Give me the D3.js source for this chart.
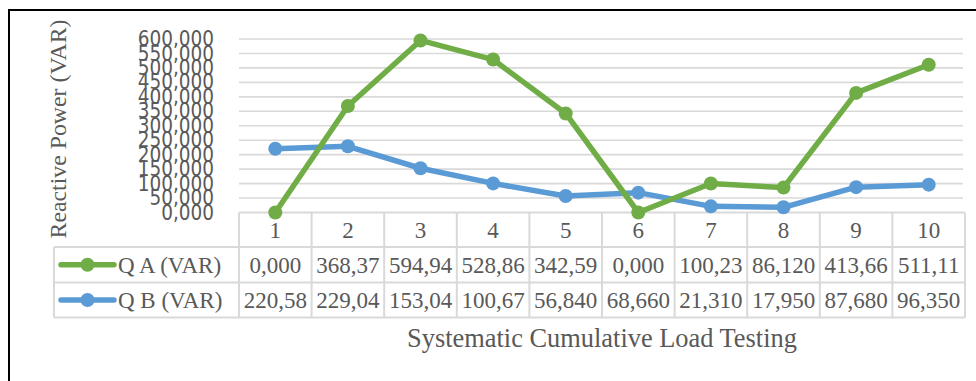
<!DOCTYPE html>
<html>
<head>
<meta charset="utf-8">
<script src="https://cdn.jsdelivr.net/npm/d3@7"></script>
<style>
  html, body { margin: 0; padding: 0; background: #fff; }
  svg { display: block; }
</style>
</head>
<body>
<svg id="chart" width="976" height="381"></svg>
<script>
const categories = ["1", "2", "3", "4", "5", "6", "7", "8", "9", "10"];
const seriesNames = ["Q A (VAR)", "Q B (VAR)"];
const qA = [0.000, 368.37, 594.94, 528.86, 342.59, 0.000, 100.23, 86.120, 413.66, 511.11];
const qB = [220.58, 229.04, 153.04, 100.67, 56.840, 68.660, 21.310, 17.950, 87.680, 96.350];
const qALabels = ["0,000", "368,37", "594,94", "528,86", "342,59", "0,000", "100,23", "86,120", "413,66", "511,11"];
const qBLabels = ["220,58", "229,04", "153,04", "100,67", "56,840", "68,660", "21,310", "17,950", "87,680", "96,350"];
const yTicks = [0, 50, 100, 150, 200, 250, 300, 350, 400, 450, 500, 550, 600];
const yTitle = "Reactive Power (VAR)";
const xTitle = "Systematic Cumulative Load Testing";

const colors = ["#70AD47", "#5B9BD5"];
const textColor = "#595959";
const gridColor = "#D9D9D9";
const serif = "'Liberation Serif', 'Times New Roman', serif";
const sansCond = "'DejaVu Sans Condensed', 'DejaVu Sans', sans-serif";

const svg = d3.select("#chart");

// outer frame (extends beyond right/bottom)
svg.append("path")
  .attr("d", "M9,390 L9,10 L990,10")
  .attr("fill", "none").attr("stroke", "#000").attr("stroke-width", 2);

const plotLeft = 239, plotRight = 965;
const x = d3.scaleBand().domain(categories).range([plotLeft, plotRight]);
const y = d3.scaleLinear().domain([0, 600]).range([212.5, 39]);

// gridlines
const grid = svg.append("g");
grid.selectAll("line").data(yTicks.filter(v => v > 0)).join("line")
  .attr("x1", plotLeft).attr("x2", plotRight - 2)
  .attr("y1", d => y(d)).attr("y2", d => y(d))
  .attr("stroke", gridColor).attr("stroke-width", 1.6);

// y tick labels
const fmt = v => d3.format(".3f")(v).replace(".", ",");
const yAxis = d3.axisLeft(y).tickValues(yTicks).tickFormat(fmt).tickSize(0).tickPadding(0);
const gy = svg.append("g").attr("transform", "translate(214,0)").call(yAxis);
gy.select(".domain").remove();
gy.selectAll("text")
  .attr("fill", textColor)
  .style("font-family", sansCond)
  .style("font-stretch", "condensed")
  .style("font-size", "20.5px");

// y title
svg.append("text")
  .attr("transform", "translate(66,129) rotate(-90)")
  .attr("text-anchor", "middle")
  .attr("fill", textColor)
  .style("font-family", serif)
  .style("font-size", "23.8px")
  .text(yTitle);

// data table
const rowTop = [212.5, 247, 282.5];
const rowBot = 317.5;
const legendLeft = 54;
const table = svg.append("g");
const tl = (x1, y1, x2, y2) => table.append("line")
  .attr("x1", x1).attr("y1", y1).attr("x2", x2).attr("y2", y2)
  .attr("stroke", gridColor).attr("stroke-width", 2);
tl(plotLeft, rowTop[0], plotRight, rowTop[0]);
tl(legendLeft, rowTop[1], plotRight, rowTop[1]);
tl(legendLeft, rowTop[2], plotRight, rowTop[2]);
tl(legendLeft, rowBot, plotRight, rowBot);
tl(legendLeft, rowTop[1], legendLeft, rowBot);
categories.forEach(c => tl(x(c), rowTop[0], x(c), rowBot));
tl(plotRight, rowTop[0], plotRight, rowBot);

const cellText = (xx, yy, t, anchor) => table.append("text")
  .attr("x", xx).attr("y", yy).attr("dy", "0.35em")
  .attr("text-anchor", anchor || "middle")
  .attr("fill", textColor)
  .style("font-family", serif)
  .style("font-size", "23px")
  .text(t);

const rowMid = [(rowTop[0] + rowTop[1]) / 2, (rowTop[1] + rowTop[2]) / 2, (rowTop[2] + rowBot) / 2];
categories.forEach((c, i) => {
  const cx = x(c) + x.bandwidth() / 2;
  cellText(cx, rowMid[0], c);
  cellText(cx, rowMid[1], qALabels[i]);
  cellText(cx, rowMid[2], qBLabels[i]);
});

// legend keys in table
[0, 1].forEach(k => {
  const yy = rowMid[k + 1];
  table.append("line").attr("x1", 61).attr("x2", 114).attr("y1", yy).attr("y2", yy)
    .attr("stroke", colors[k]).attr("stroke-width", 5.5).attr("stroke-linecap", "round");
  table.append("circle").attr("cx", 87.5).attr("cy", yy).attr("r", 7).attr("fill", colors[k]);
  cellText(118, yy, seriesNames[k], "start");
});

// lines
const series = [qA, qB];
const line = d3.line().x((d, i) => x(categories[i]) + x.bandwidth() / 2).y(d => y(d));
[1, 0].forEach(k => {
  const g = svg.append("g");
  g.append("path").datum(series[k]).attr("d", line)
    .attr("fill", "none").attr("stroke", colors[k]).attr("stroke-width", 5.5)
    .attr("stroke-linejoin", "round").attr("stroke-linecap", "round");
  g.selectAll("circle").data(series[k]).join("circle")
    .attr("cx", (d, i) => x(categories[i]) + x.bandwidth() / 2)
    .attr("cy", d => y(d)).attr("r", 7).attr("fill", colors[k]);
});

// x title
svg.append("text")
  .attr("x", (plotLeft + plotRight) / 2).attr("y", 347)
  .attr("text-anchor", "middle")
  .attr("fill", textColor)
  .style("font-family", serif)
  .style("font-size", "26.4px")
  .text(xTitle);
</script>
</body>
</html>
